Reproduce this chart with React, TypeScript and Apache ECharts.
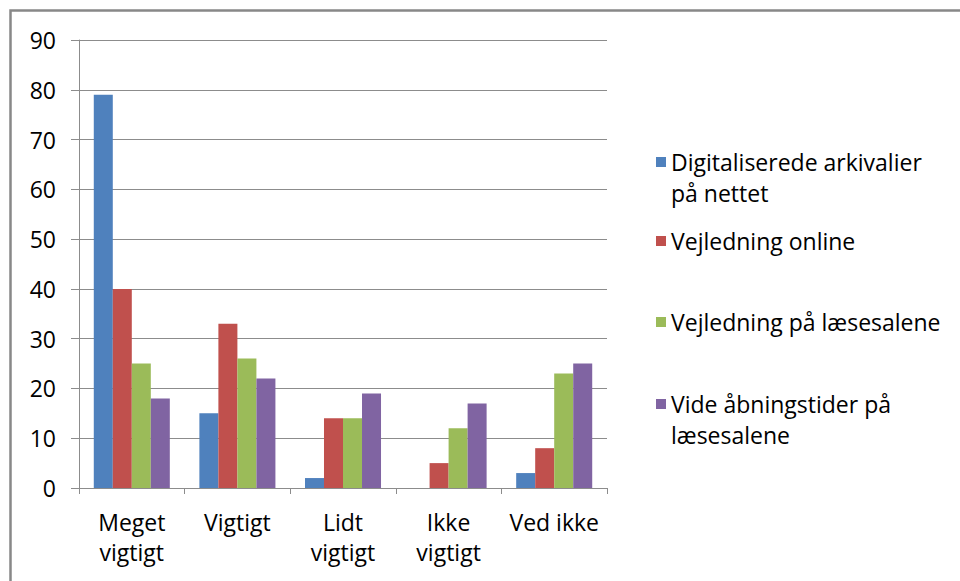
import React, { useEffect, useRef } from "react";
import * as echarts from "echarts";

const categories = ["Meget\nvigtigt", "Vigtigt", "Lidt\nvigtigt", "Ikke\nvigtigt", "Ved ikke"];
const seriesNames = [
  "Digitaliserede arkivalier\npå nettet",
  "Vejledning online",
  "Vejledning på læsesalene",
  "Vide åbningstider på\nlæsesalene",
];
const digitalisered = [79, 15, 2, 0, 3];
const vejledningOnline = [40, 33, 14, 5, 8];
const vejledningLaesesal = [25, 26, 14, 12, 23];
const videAabning = [18, 22, 19, 17, 25];
const seriesValues = [digitalisered, vejledningOnline, vejledningLaesesal, videAabning];
const colors = ["#4F81BD", "#C0504D", "#9BBB59", "#8064A2"];
const yTicks = { min: 0, max: 90, interval: 10 };

const FONT = "'Open Sans', sans-serif";
const FS = 23;

export default function App() {
  const ref = useRef<HTMLDivElement>(null);
  useEffect(() => {
    const chart = echarts.init(ref.current!, undefined, { renderer: "svg" });
    const legendCenters = [162, 241, 322, 404];
    const legendGraphics: any[] = [];
    seriesNames.forEach((name, i) => {
      legendGraphics.push({
        type: "rect",
        shape: { x: 656, y: legendCenters[i] - 5, width: 10, height: 10 },
        style: { fill: colors[i] },
      });
      legendGraphics.push({
        type: "text",
        x: 671,
        y: legendCenters[i] - 16,
        style: {
          text: name,
          font: `${FS}px ${FONT}`,
          fill: "#000",
          lineHeight: 31,
          verticalAlign: "top",
          align: "left",
        },
      });
    });
    chart.setOption({
      animation: false,
      backgroundColor: "#fff",
      textStyle: { fontFamily: FONT },
      grid: { left: 79, right: 353, top: 40, bottom: 93, containLabel: false },
      legend: { show: false },
      xAxis: {
        type: "category",
        data: categories,
        boundaryGap: true,
        axisLine: { show: true, lineStyle: { color: "#8c8c8c", width: 1 } },
        axisTick: { show: true, length: 6, lineStyle: { color: "#8c8c8c" } },
        axisLabel: {
          color: "#000",
          fontSize: FS,
          fontFamily: FONT,
          lineHeight: 30,
          margin: 19,
          interval: 0,
        },
      },
      yAxis: {
        type: "value",
        min: yTicks.min,
        max: yTicks.max,
        interval: yTicks.interval,
        axisLine: { show: true, lineStyle: { color: "#8c8c8c", width: 1 } },
        axisTick: { show: true, length: 8, lineStyle: { color: "#8c8c8c" } },
        axisLabel: { color: "#000", fontSize: FS, fontFamily: FONT, margin: 23 },
        splitLine: { show: true, lineStyle: { color: "#8c8c8c", width: 1 } },
      },
      series: seriesNames.map((name, i) => ({
        name,
        type: "bar",
        data: seriesValues[i],
        barGap: "0%",
        barCategoryGap: "28%",
        itemStyle: { color: colors[i] },
      })),
      graphic: [
        {
          type: "rect",
          shape: { x: 10.5, y: 10.5, width: 1200, height: 900 },
          style: { fill: "none", stroke: "#888888", lineWidth: 2.5 },
          z: 100,
        },
        ...legendGraphics,
      ],
    });
    return () => chart.dispose();
  }, []);
  return (
    <div
      ref={ref}
      style={{ position: "fixed", left: 0, top: 0, width: 960, height: 581 }}
    />
  );
}
